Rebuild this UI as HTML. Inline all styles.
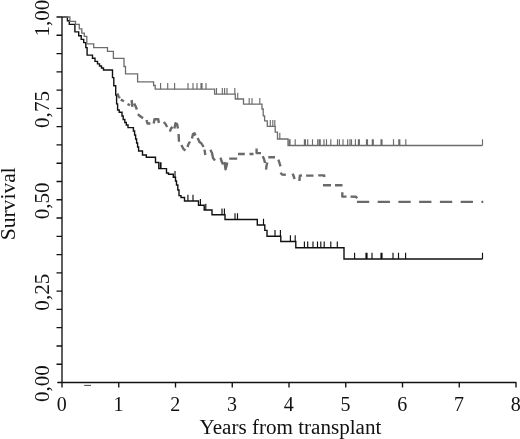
<!DOCTYPE html>
<html><head><meta charset="utf-8"><title>Survival</title>
<style>
html,body{margin:0;padding:0;background:#fff;}
svg{display:block;}
text{font-family:"Liberation Serif","Times New Roman",serif;font-size:20px;fill:#111;}
</style></head><body>
<svg width="520" height="439" viewBox="0 0 520 439">
<rect width="520" height="439" fill="#fff"/>
<path d="M62.0 17.0 H67.4 V20.7 H69.3 V24.4 H74.9 V31.9 H78.7 V35.7 H81.2 V39.4 H83.7 V42.6 H85.8 V47.6 H87.1 V55.1 H92.5 V58.2 H95.0 V61.4 H97.5 V63.9 H99.5 V66.0 H101.5 V68.0 H103.5 V70.0 H112.5 V77.6 H113.8 V85.7 H115.7 V95.0 H116.6 V103.9 H117.6 V110.0 H119.2 V112.2 H122.0 V116.0 H123.2 V119.5 H124.8 V122.5 H126.3 V125.0 H128.0 V127.6 H133.4 V131.0 H134.6 V135.0 H135.6 V139.0 H136.6 V143.0 H137.6 V147.0 H138.6 V151.0 H142.5 V155.0 H146.3 V157.3 H155.5 V162.5 H158.8 V168.6 H166.5 V173.0 H168.5 V174.2 H173.3 V177.2 H175.5 V181.0 H176.5 V185.0 H177.8 V190.0 H179.0 V195.6 H181.0 V197.5 H184.5 V201.0 H198.5 V205.2 H204.2 V210.0 H212.0 V214.8 H225.0 V219.5 H257.3 V225.0 H264.8 V230.4 H267.0 V236.2 H280.8 V241.5 H295.8 V247.8 H344.0 V259.0 H482.5 V259.0" fill="none" stroke="#111" stroke-width="1.4"/>
<path d="M160.3 168.6v-6.3M161.0 168.6v-6.3M175.0 177.2v-6.3M187.9 201.0v-6.3M193.0 201.0v-6.3M200.4 205.2v-6.3M205.8 210.0v-6.3M222.0 214.8v-6.3M224.4 214.8v-6.3M235.0 219.5v-6.3M237.5 219.5v-6.3M263.5 225.0v-6.3M275.0 236.2v-6.3M280.4 236.2v-6.3M290.4 241.5v-6.3M295.2 241.5v-6.3M304.4 247.8v-6.3M307.7 247.8v-6.3M313.0 247.8v-6.3M317.5 247.8v-6.3M320.8 247.8v-6.3M324.2 247.8v-6.3M330.8 247.8v-6.3M337.3 247.8v-6.3M354.6 259.0v-6.3M366.0 259.0v-6.3M367.0 259.0v-6.3M372.0 259.0v-6.3M381.0 259.0v-6.3M382.0 259.0v-6.3M393.0 259.0v-6.3M398.5 259.0v-6.3M405.6 259.0v-6.3M482.5 259.0v-6.3" fill="none" stroke="#111" stroke-width="1.15"/>
<path d="M117.4 93.4 L118.5 96.5 L120.0 98.0 M120.8 99.6 L124.0 101.3 M127.5 104.0 L130.0 105.3 M131.6 100.0 L132.4 106.8 M134.2 103.5 L135.5 106.0 L136.9 109.5 M137.8 114.2 L140.0 116.0 L143.0 118.3 M146.5 120.0 L147.5 123.5 L150.4 123.5 M153.7 123.5 L154.5 119.3 L158.3 119.3 L158.8 123.0 M163.8 122.0 L165.5 124.0 L167.2 127.0 M169.9 131.7 L171.0 128.5 L172.6 127.0 M174.4 128.5 L175.5 123.2 L177.0 124.0 L178.0 128.5 M178.6 134.0 L179.0 141.8 M181.4 145.0 L183.5 149.0 L185.5 150.5 M187.5 147.0 L188.5 144.0 L190.0 141.5 M192.0 138.5 L193.0 134.0 L194.5 133.2 L195.5 135.5 M197.6 138.0 L199.5 142.0 L201.5 143.5 L203.6 147.0 M204.5 149.6 L205.3 155.0 M210.4 149.8 L212.0 153.0 L213.0 158.0 L215.0 160.5 M220.5 157.7 L221.5 161.0 L223.0 164.4 M224.5 162.0 L225.5 169.3 L226.5 166.0 L227.2 162.5 M229.2 158.6 L237.2 158.6 M238.0 154.0 L244.8 154.0 M249.5 154.0 L253.5 154.0 M256.6 148.6 L256.6 153.1 L261.0 153.1 M262.7 156.2 L264.0 159.0 L265.0 163.0 M267.3 162.5 L266.5 166.0 L266.0 169.7 M268.3 157.3 L275.0 157.3 M278.4 159.6 L279.5 163.0 L280.5 166.3 M280.5 172.8 L282.0 174.5 L285.8 174.7 M292.6 173.6 L293.6 176.0 L294.6 179.0 M299.4 181.0 L299.8 175.8 L302.0 175.4 M306.1 175.6 L313.5 175.6 M318.2 175.4 L324.2 175.4 L324.4 177.0 M323.0 185.3 L331.0 185.3 M335.0 185.3 L342.5 185.3 M342.3 192.2 L342.3 196.6 L346.5 196.6 M350.5 196.6 L356.0 196.8 L357.2 198.2" fill="none" stroke="#6a6a6a" stroke-width="2.4" stroke-linejoin="round"/>
<path d="M356.9 201.8H483.3" fill="none" stroke="#6a6a6a" stroke-width="2.3" stroke-dasharray="12.3 8.45"/>
<path d="M62.0 17.0 H69.9 V21.3 H75.5 V24.4 H79.3 V28.8 H81.8 V33.2 H84.3 V36.3 H86.8 V43.8 H93.7 V47.6 H107.5 V51.4 H113.4 V58.4 H124.0 V66.5 H125.5 V73.8 H137.6 V81.9 H153.6 V85.5 H155.2 V89.2 H214.6 V94.2 H235.3 V99.0 H243.5 V104.2 H262.0 V109.0 H263.2 V115.8 H264.6 V120.8 H267.3 V126.4 H275.2 V132.2 H277.5 V139.0 H288.0 V145.5 H482.5 V145.5" fill="none" stroke="#6c6c6c" stroke-width="1.3"/>
<path d="M160.6 89.2v-6.3M167.7 89.2v-6.3M174.6 89.2v-6.3M188.0 89.2v-6.3M193.0 89.2v-6.3M197.0 89.2v-6.3M201.0 89.2v-6.3M202.0 89.2v-6.3M206.0 89.2v-6.3M216.5 94.2v-6.3M222.3 94.2v-6.3M224.6 94.2v-6.3M227.0 94.2v-6.3M234.8 94.2v-6.3M237.7 99.0v-6.3M249.2 104.2v-6.3M252.0 104.2v-6.3M259.8 104.2v-6.3M270.3 126.4v-6.3M272.8 126.4v-6.3M274.8 126.4v-6.3M279.8 139.0v-6.3M289.0 145.5v-6.3M290.0 145.5v-6.3M295.2 145.5v-6.3M304.4 145.5v-6.3M305.4 145.5v-6.3M307.7 145.5v-6.3M312.5 145.5v-6.3M317.7 145.5v-6.3M319.2 145.5v-6.3M320.2 145.5v-6.3M324.0 145.5v-6.3M326.5 145.5v-6.3M330.8 145.5v-6.3M337.5 145.5v-6.3M339.4 145.5v-6.3M343.0 145.5v-6.3M347.7 145.5v-6.3M350.0 145.5v-6.3M351.5 145.5v-6.3M355.4 145.5v-6.3M358.4 145.5v-6.3M359.4 145.5v-6.3M366.5 145.5v-6.3M367.5 145.5v-6.3M372.3 145.5v-6.3M373.3 145.5v-6.3M381.0 145.5v-6.3M382.0 145.5v-6.3M393.5 145.5v-6.3M398.8 145.5v-6.3M399.8 145.5v-6.3M405.8 145.5v-6.3M482.5 145.5v-6.3" fill="none" stroke="#6c6c6c" stroke-width="1.15"/>
<path d="M62 17V382.5M57.3 382.5H516.5M56.5 17.00H62M56.5 35.27H62M56.5 53.55H62M56.5 71.82H62M56.5 90.10H62M56.5 108.38H62M56.5 126.65H62M56.5 144.92H62M56.5 163.20H62M56.5 181.47H62M56.5 199.75H62M56.5 218.02H62M56.5 236.30H62M56.5 254.57H62M56.5 272.85H62M56.5 291.12H62M56.5 309.40H62M56.5 327.67H62M56.5 345.95H62M56.5 364.22H62M118.75 382.5V387.5M175.50 382.5V387.5M232.25 382.5V387.5M289.00 382.5V387.5M345.75 382.5V387.5M402.50 382.5V387.5M459.25 382.5V387.5M516.00 382.5V387.5M62 382.5V387.5" fill="none" stroke="#111" stroke-width="1.35"/>
<path d="M84.2 385.4H91" stroke="#444" stroke-width="1"/>
<text x="61.7" y="410.5" text-anchor="middle">0</text>
<text x="118.5" y="410.5" text-anchor="middle">1</text>
<text x="175.2" y="410.5" text-anchor="middle">2</text>
<text x="231.9" y="410.5" text-anchor="middle">3</text>
<text x="288.7" y="410.5" text-anchor="middle">4</text>
<text x="345.4" y="410.5" text-anchor="middle">5</text>
<text x="402.2" y="410.5" text-anchor="middle">6</text>
<text x="458.9" y="410.5" text-anchor="middle">7</text>
<text x="515.7" y="410.5" text-anchor="middle">8</text>
<text transform="translate(48.8 18.1) rotate(-90)" text-anchor="middle" textLength="36.9" lengthAdjust="spacingAndGlyphs">1,00</text>
<text transform="translate(48.8 109.5) rotate(-90)" text-anchor="middle" textLength="36.9" lengthAdjust="spacingAndGlyphs">0,75</text>
<text transform="translate(48.8 200.8) rotate(-90)" text-anchor="middle" textLength="36.9" lengthAdjust="spacingAndGlyphs">0,50</text>
<text transform="translate(48.8 292.2) rotate(-90)" text-anchor="middle" textLength="36.9" lengthAdjust="spacingAndGlyphs">0,25</text>
<text transform="translate(48.8 383.6) rotate(-90)" text-anchor="middle" textLength="36.9" lengthAdjust="spacingAndGlyphs">0,00</text>
<text transform="translate(14.5 203.8) rotate(-90)" text-anchor="middle" textLength="73" lengthAdjust="spacingAndGlyphs">Survival</text>
<text x="290.5" y="433.8" text-anchor="middle" textLength="181.8" lengthAdjust="spacingAndGlyphs">Years from transplant</text>
</svg>
</body></html>
